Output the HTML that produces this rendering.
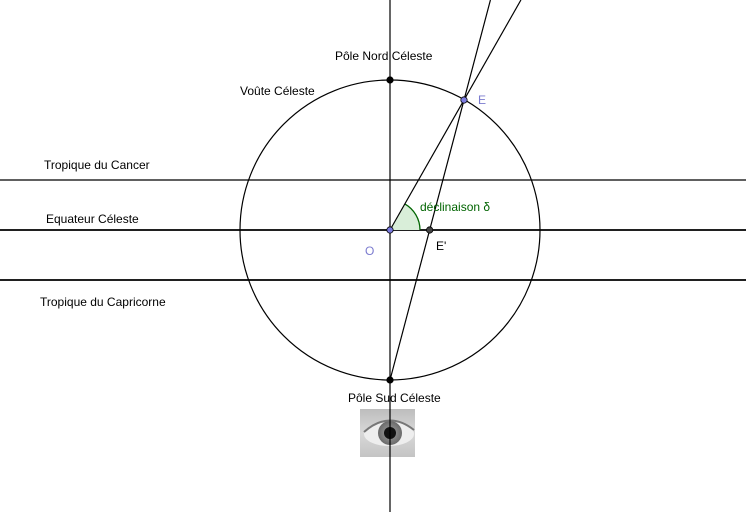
<!DOCTYPE html>
<html><head><meta charset="utf-8"><style>
html,body{margin:0;padding:0;background:#fff;}
svg{display:block;font-family:"Liberation Sans",sans-serif;font-size:12px;}
</style></head><body>
<svg id="fig" width="746" height="512" viewBox="0 0 746 512" xmlns="http://www.w3.org/2000/svg">
<defs>
<radialGradient id="iris" cx="50%" cy="50%" r="50%">
<stop offset="0" stop-color="#555"/><stop offset="0.5" stop-color="#888"/><stop offset="1" stop-color="#6a6a6a"/>
</radialGradient>
<linearGradient id="skin" x1="0" y1="0" x2="0" y2="1">
<stop offset="0" stop-color="#bdbdbd"/><stop offset="0.5" stop-color="#d8d8d8"/><stop offset="1" stop-color="#c4c4c4"/>
</linearGradient>
</defs>
<line x1="0" y1="180" x2="746" y2="180" stroke="#000" stroke-width="1.2"/>
<line x1="0" y1="230" x2="746" y2="230" stroke="#000" stroke-width="1.8"/>
<line x1="0" y1="280" x2="746" y2="280" stroke="#000" stroke-width="1.8"/>
<circle cx="390" cy="230" r="150" fill="none" stroke="#000" stroke-width="1.2"/>
<g>
<rect x="360" y="409" width="55" height="48" fill="url(#skin)"/>
<ellipse cx="389" cy="434" rx="25" ry="12" fill="#eee"/>
<circle cx="390" cy="433" r="12" fill="url(#iris)"/>
<circle cx="390" cy="433" r="6" fill="#111"/>
<path d="M364 432 Q389 410 414 430" fill="none" stroke="#777" stroke-width="2"/>
</g>
<line x1="390" y1="0" x2="390" y2="512" stroke="#000" stroke-width="1.2"/>
<g id="dyn"></g>
<text x="335" y="60">Pôle Nord Céleste</text>
<text x="240" y="95">Voûte Céleste</text>
<text x="44" y="169">Tropique du Cancer</text>
<text x="46" y="223">Equateur Céleste</text>
<text x="40" y="306">Tropique du Capricorne</text>
<text x="348" y="402">Pôle Sud Céleste</text>
<text x="365" y="255" fill="#7b7bcf">O</text>
<text x="478" y="104" fill="#7b7bcf">E</text>
<text x="436" y="250">E'</text>
<text x="420" y="211" fill="#006400">déclinaison δ</text>
</svg>
<script>
const centerO = [390, 230];
const radius = [150];
const pointE = [464, 100];
const southPole = [390, 380];
const northPole = [390, 80];
const g = document.getElementById('dyn');
const NS = 'http://www.w3.org/2000/svg';
function mk(tag, attrs){const e=document.createElementNS(NS,tag);for(const k in attrs)e.setAttribute(k,attrs[k]);g.appendChild(e);return e;}
function toTop(p,q){const t=(0-p[1])/(q[1]-p[1]);return [p[0]+t*(q[0]-p[0]),0];}
const [ox,oy]=centerO,[ex,ey]=pointE,[sx,sy]=southPole;
// E' : intersection of south pole-E line with equator
const tE=(oy-sy)/(ey-sy);const epx=sx+tE*(ex-sx);
// angle arc
const ang=Math.atan2(oy-ey,ex-ox);const ar=30;
const arc=mk('path',{d:`M${ox} ${oy} L${ox+ar} ${oy} A${ar} ${ar} 0 0 0 ${ox+ar*Math.cos(ang)} ${oy-ar*Math.sin(ang)} Z`,fill:'#d9eed9',stroke:'none'});


const arcl=mk('path',{d:`M${ox+ar} ${oy} A${ar} ${ar} 0 0 0 ${ox+ar*Math.cos(ang)} ${oy-ar*Math.sin(ang)}`,fill:'none',stroke:'#006400','stroke-width':1.3});


const t1=toTop(centerO,pointE);
const l1=mk('line',{x1:ox,y1:oy,x2:t1[0],y2:0,stroke:'#000','stroke-width':1.2});


const t2=toTop(southPole,pointE);
const l2=mk('line',{x1:sx,y1:sy,x2:t2[0],y2:0,stroke:'#000','stroke-width':1.2});


const pts=[[northPole,'#000','north-pole-point'],[southPole,'#000','south-pole-point'],[[epx,oy],'#444','point-e-prime'],[centerO,'#7b7bdf','origin-point'],[pointE,'#7b7bdf','point-e']];
pts.forEach(([p,c,n])=>{const e=mk('circle',{cx:p[0],cy:p[1],r:3.2,fill:c,stroke:'#000','stroke-width':0.8});

});
</script>
</body></html>
